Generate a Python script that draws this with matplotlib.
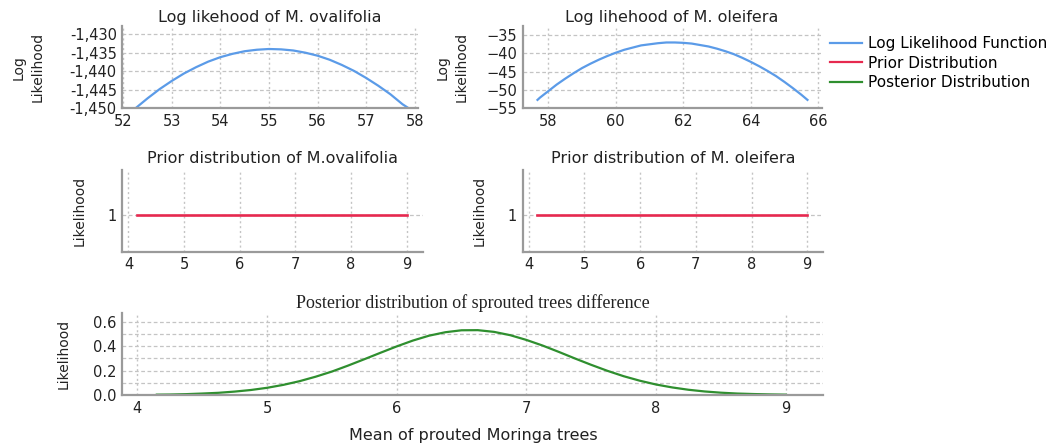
import matplotlib
matplotlib.use("Agg")
import matplotlib.pyplot as plt
from matplotlib.lines import Line2D
from matplotlib.ticker import FuncFormatter, MultipleLocator

# log likelihood of the mean, M. ovalifolia
ova_mean = [52.25, 52.5, 52.75, 53.0, 53.25, 53.5, 53.75, 54.0, 54.25, 54.5, 54.75, 55.0,
            55.25, 55.5, 55.75, 56.0, 56.25, 56.5, 56.75, 57.0, 57.25, 57.5, 57.75, 57.88]
ova_loglik = [-1450.0, -1447.3, -1444.8, -1442.6, -1440.6, -1438.9, -1437.4, -1436.2, -1435.3,
              -1434.6, -1434.2, -1434.0, -1434.1, -1434.4, -1435.0, -1435.8, -1436.9, -1438.3,
              -1439.9, -1441.8, -1443.9, -1446.2, -1448.9, -1450.0]

# log likelihood of the mean, M. oleifera
ole_mean = [57.68, 57.75, 58.0, 58.25, 58.5, 58.75, 59.0, 59.25, 59.5, 59.75, 60.0, 60.25,
            60.5, 60.75, 61.0, 61.25, 61.5, 61.75, 62.0, 62.25, 62.5, 62.75, 63.0, 63.25,
            63.5, 63.75, 64.0, 64.25, 64.5, 64.75, 65.0, 65.25, 65.5, 65.68]
ole_loglik = [-52.7, -52.1, -50.3, -48.5, -46.9, -45.4, -44.0, -42.8, -41.7, -40.7, -39.8,
              -39.0, -38.4, -37.8, -37.5, -37.2, -37.0, -37.0, -37.1, -37.3, -37.7, -38.1,
              -38.7, -39.4, -40.2, -41.2, -42.3, -43.5, -44.8, -46.2, -47.8, -49.5, -51.3, -52.7]

# flat priors
prior_x = [4.15, 9.0]
prior_ova = [1.0, 1.0]
prior_ole = [1.0, 1.0]

# posterior of the difference
post_x = [4.15, 4.25, 4.375, 4.5, 4.625, 4.75, 4.875, 5.0, 5.125, 5.25, 5.375, 5.5, 5.625,
          5.75, 5.875, 6.0, 6.125, 6.25, 6.375, 6.5, 6.625, 6.75, 6.875, 7.0, 7.125, 7.25,
          7.375, 7.5, 7.625, 7.75, 7.875, 8.0, 8.125, 8.25, 8.375, 8.5, 8.625, 8.75, 8.875, 9.0]
post_y = [0.003, 0.004, 0.007, 0.012, 0.018, 0.028, 0.041, 0.059, 0.083, 0.113, 0.150,
          0.192, 0.241, 0.293, 0.346, 0.398, 0.446, 0.486, 0.514, 0.530, 0.531, 0.517,
          0.490, 0.451, 0.405, 0.353, 0.299, 0.247, 0.198, 0.154, 0.117, 0.086, 0.062,
          0.043, 0.029, 0.019, 0.012, 0.008, 0.005, 0.003]

ova_xticks = [52, 53, 54, 55, 56, 57, 58]
ova_yticks = [-1450, -1445, -1440, -1435, -1430]
ole_xticks = [58, 60, 62, 64, 66]
ole_yticks = [-55, -50, -45, -40, -35]
prior_xticks = [4, 5, 6, 7, 8, 9]
post_yticks = [0.0, 0.2, 0.4, 0.6]

BLUE = "#5b9be8"
RED = "#e6294f"
GREEN = "#2f8f2f"
SPINE = "#9a9a9a"
GRID = "#c4c4c4"
TXT = "#222222"

plt.rcParams["font.family"] = "DejaVu Sans"
plt.rcParams["font.size"] = 10


def style_axes(ax):
    for side in ["top", "right"]:
        ax.spines[side].set_visible(False)
    for side in ["left", "bottom"]:
        ax.spines[side].set_color(SPINE)
        ax.spines[side].set_linewidth(1.6)
    ax.tick_params(length=0, labelsize=10.5, colors=TXT, pad=4)
    ax.grid(axis="x", color=GRID, linestyle=(0, (1.5, 2)), linewidth=1.0)
    ax.grid(axis="y", color=GRID, linestyle=(0, (3, 2)), linewidth=0.9)
    ax.set_axisbelow(True)


fig = plt.figure(figsize=(10.61, 4.47), dpi=100)

ax1 = fig.add_axes([0.1153, 0.7577, 0.2787, 0.1841])
ax2 = fig.add_axes([0.4926, 0.7577, 0.2818, 0.1841])
ax3 = fig.add_axes([0.1153, 0.4369, 0.2831, 0.1828])
ax4 = fig.add_axes([0.4926, 0.4369, 0.2834, 0.1828])
ax5 = fig.add_axes([0.1153, 0.1163, 0.6607, 0.1828])

# top row: log likelihood curves
ax1.plot(ova_mean, ova_loglik, color=BLUE, lw=1.6)
ax1.set_xlim(51.98, 58.07)
ax1.set_ylim(-1450, -1427.8)
ax1.set_xticks(ova_xticks)
ax1.set_yticks(ova_yticks)
ax1.yaxis.set_major_formatter(FuncFormatter(lambda v, p: f"{v:,.0f}"))
ax1.set_title("Log likehood of M. ovalifolia", fontsize=11.5, pad=3, color=TXT)
ax1.set_ylabel("Log\nLikelihood", fontsize=10, color=TXT, linespacing=1.45, labelpad=18)

ax2.plot(ole_mean, ole_loglik, color=BLUE, lw=1.6)
ax2.set_xlim(57.24, 66.1)
ax2.set_ylim(-55, -32.5)
ax2.set_xticks(ole_xticks)
ax2.set_yticks(ole_yticks)
ax2.set_title("Log lihehood of M. oleifera", fontsize=11.5, pad=3, color=TXT)
ax2.set_ylabel("Log\nLikelihood", fontsize=10, color=TXT, linespacing=1.45, labelpad=13)

# middle row: flat priors
for ax, prior, title in [(ax3, prior_ova, "Prior distribution of M.ovalifolia"),
                         (ax4, prior_ole, "Prior distribution of M. oleifera")]:
    ax.plot(prior_x, prior, color=RED, lw=1.9)
    ax.set_xlim(3.89, 9.29)
    ax.set_ylim(0.55, 1.55)
    ax.set_xticks(prior_xticks)
    ax.set_yticks([1])
    ax.set_title(title, fontsize=11.5, pad=5, color=TXT)
    ax.set_ylabel("Likelihood", fontsize=10, color=TXT, labelpad=15)

# bottom row: posterior of the difference
ax5.plot(post_x, post_y, color=GREEN, lw=1.6)
ax5.set_xlim(3.884, 9.29)
ax5.set_ylim(0, 0.669)
ax5.set_xticks(prior_xticks)
ax5.set_yticks(post_yticks)
ax5.yaxis.set_minor_locator(MultipleLocator(0.1))
ax5.yaxis.set_major_formatter(FuncFormatter(lambda v, p: f"{v:.1f}"))
ax5.set_title("Posterior distribution of sprouted trees difference",
              fontsize=13, family="Liberation Serif", pad=4, color=TXT)
ax5.set_ylabel("Likelihood", fontsize=10, color=TXT, labelpad=16)
ax5.set_xlabel("Mean of prouted Moringa trees", fontsize=11.5, color=TXT, labelpad=9)

for ax in [ax1, ax2, ax3, ax4, ax5]:
    style_axes(ax)
ax5.grid(axis="y", which="minor", color=GRID, linestyle=(0, (3, 2)), linewidth=0.9)
ax5.tick_params(which="minor", length=0)

handles = [Line2D([], [], color=BLUE, lw=1.6),
           Line2D([], [], color=RED, lw=1.6),
           Line2D([], [], color=GREEN, lw=1.6)]
labels = ["Log Likelihood Function", "Prior Distribution", "Posterior Distribution"]
fig.legend(handles, labels, loc="upper left", bbox_to_anchor=(0.7766, 0.933),
           frameon=False, fontsize=11, handlelength=2.1, handletextpad=0.4,
           labelspacing=0.3, borderaxespad=0)

fig.savefig("out.png", dpi=100)
